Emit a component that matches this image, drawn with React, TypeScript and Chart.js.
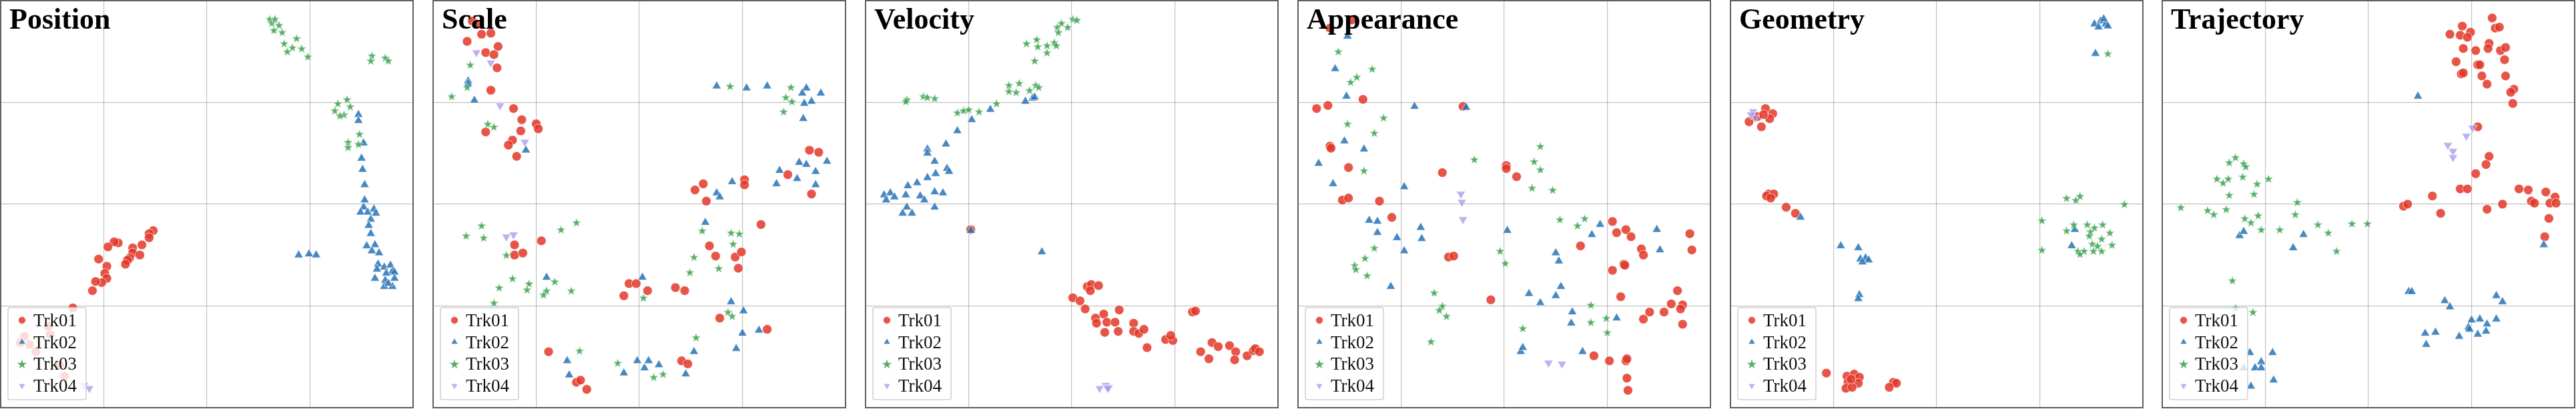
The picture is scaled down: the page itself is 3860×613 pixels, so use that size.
import React, { useEffect, useRef } from 'react';
import { Chart, registerables } from 'chart.js';

Chart.register(...registerables);

// ---------- categories / labels ----------
const panelTitles = ['Position', 'Scale', 'Velocity', 'Appearance', 'Geometry', 'Trajectory'];
const seriesNames = ['Trk01', 'Trk02', 'Trk03', 'Trk04'];
const gridTicks = [0, 10, 20, 30, 40];

// ---------- Position ----------
const position_trk01 = [[14.8,17.4],[14.4,17.1],[14.4,16.7],[13.7,16.0],[12.8,15.7],[12.8,15.2],[13.5,15.0],[12.5,14.7],[12.3,14.5],[12.1,14.1],[11.4,16.2],[11.0,16.3],[10.4,15.8],[9.5,14.6],[10.3,13.9],[10.1,13.2],[10.3,12.7],[9.8,12.3],[9.2,12.4],[8.9,11.5],[7.0,9.8],[4.6,8.0],[4.8,7.2],[2.3,7.0],[1.9,6.4],[2.8,6.2],[3.4,5.5],[5.7,4.2],[6.2,3.1]];
const position_trk02 = [[34.7,28.8],[34.7,28.2],[35.2,26.0],[35.0,24.5],[35.1,23.4],[35.3,21.9],[35.3,20.4],[35.2,19.7],[34.9,19.2],[35.6,19.2],[36.2,19.5],[36.4,19.1],[35.9,18.5],[35.7,17.9],[35.9,17.1],[35.5,15.9],[36.3,16.0],[36.0,15.4],[36.7,15.2],[36.6,14.1],[36.5,13.6],[37.2,13.8],[37.8,14.0],[38.0,13.4],[38.2,13.3],[37.4,13.2],[36.3,12.7],[37.3,12.5],[38.2,12.7],[37.2,11.9],[38.0,11.9],[37.6,12.2],[28.9,15.0],[29.9,15.1],[30.6,15.0]];
const position_trk03 = [[26.1,38.2],[26.3,37.8],[27.0,37.6],[26.5,37.1],[27.3,36.9],[26.6,38.2],[28.7,36.3],[27.5,35.8],[28.3,35.4],[29.2,35.3],[27.8,35.0],[29.8,34.5],[36.0,34.6],[35.9,34.1],[37.3,34.4],[37.6,34.1],[32.7,29.9],[33.6,30.3],[33.9,29.6],[32.4,29.2],[33.3,28.8],[32.9,28.7],[34.8,26.9],[33.7,26.1],[33.7,25.6],[34.7,25.9]];
const position_trk04 = [[8.1,2.2],[8.6,1.9]];

// ---------- Scale ----------
const scale_trk01 = [[3.8,38.0],[4.2,37.7],[4.7,36.7],[5.6,36.8],[3.3,36.0],[6.3,35.5],[5.1,34.9],[5.9,34.7],[6.2,33.4],[5.6,31.2],[7.8,29.4],[8.6,28.3],[10.0,27.9],[10.2,27.4],[8.5,27.2],[5.1,27.1],[7.7,26.3],[7.3,25.8],[8.1,24.7],[36.5,25.3],[37.4,25.1],[34.4,22.9],[30.2,22.4],[30.2,21.9],[26.2,22.0],[25.4,21.4],[26.5,20.3],[36.7,21.0],[31.8,18.0],[26.8,15.9],[27.4,14.9],[29.3,14.8],[29.9,15.3],[29.6,13.7],[10.5,16.4],[7.9,16.0],[7.9,15.0],[8.7,15.2],[19.0,12.2],[19.7,12.2],[20.8,11.5],[18.5,11.0],[23.5,11.8],[24.4,11.5],[27.8,8.8],[32.4,7.7],[11.2,5.5],[24.1,4.6],[24.7,4.3],[13.9,2.5],[14.3,2.7],[14.9,1.8]];
const scale_trk02 = [[3.4,32.1],[3.4,31.8],[4.0,30.2],[9.0,25.3],[27.5,31.6],[30.4,31.4],[32.4,31.6],[36.2,31.4],[35.8,30.9],[37.6,30.9],[36.0,29.9],[36.7,30.1],[35.9,28.4],[35.5,24.1],[36.2,23.9],[38.2,24.2],[33.6,23.3],[37.1,23.2],[35.3,22.5],[33.3,22.0],[37.1,21.9],[29.0,22.2],[27.5,21.1],[27.8,20.7],[26.4,18.2],[11.0,12.8],[20.3,12.8],[28.9,10.4],[30.1,9.5],[30.0,7.3],[31.6,7.6],[29.4,5.8],[25.3,5.5],[24.5,3.3],[13.0,4.6],[13.2,3.2],[18.5,3.4],[19.8,4.6],[20.5,3.9],[20.9,4.6],[21.9,4.2]];
const scale_trk03 = [[3.6,33.7],[3.3,31.5],[1.8,30.6],[5.3,27.9],[5.9,27.6],[28.8,31.6],[34.7,31.5],[34.2,30.5],[34.8,30.1],[34.0,29.1],[4.7,17.9],[3.2,16.9],[4.9,16.7],[12.4,17.5],[13.9,18.2],[7.1,15.0],[7.7,12.7],[6.4,11.8],[9.3,12.2],[9.1,11.6],[11.0,11.5],[10.7,11.1],[11.8,12.4],[13.4,11.5],[5.9,10.3],[20.4,10.8],[26.1,17.4],[25.3,14.8],[24.9,13.3],[28.9,17.2],[29.7,17.1],[29.1,16.1],[27.7,13.7],[28.6,9.4],[29.0,9.0],[25.5,6.9],[14.2,5.6],[17.9,4.4],[21.4,3.0],[22.3,3.3]];
const scale_trk04 = [[4.2,34.9],[5.6,33.9],[6.5,29.7],[8.9,26.1],[7.1,16.8],[7.8,17.0]];

// ---------- Velocity ----------
const velocity_trk01 = [[10.2,17.5],[21.5,11.9],[21.9,12.1],[22.6,12.0],[21.8,11.5],[20.1,10.8],[20.8,10.5],[21.3,9.7],[22.3,8.8],[23.1,9.2],[22.4,8.3],[23.4,8.4],[24.2,8.4],[24.6,9.6],[23.2,7.4],[24.5,7.5],[26.0,8.3],[26.0,7.5],[26.5,7.3],[27.0,7.7],[27.3,5.9],[29.1,6.7],[29.8,6.6],[29.6,7.1],[31.7,9.4],[32.0,9.5],[32.5,5.5],[33.3,4.8],[33.6,6.4],[34.2,6.0],[35.3,6.1],[35.9,5.5],[35.8,4.7],[37.0,5.1],[37.6,5.6],[37.8,5.8],[38.2,5.5]];
const velocity_trk02 = [[15.5,30.1],[16.2,30.4],[16.4,30.5],[12.1,29.3],[10.3,28.3],[8.9,27.2],[7.8,25.9],[6.0,25.4],[6.0,25.0],[6.7,24.2],[7.9,23.5],[8.1,23.2],[6.8,23.0],[6.0,22.6],[5.0,22.1],[4.1,21.8],[1.8,20.9],[2.4,21.1],[2.8,20.7],[2.0,20.4],[3.9,20.9],[5.3,20.8],[5.7,20.4],[6.7,21.2],[7.5,21.1],[6.7,19.7],[4.0,19.7],[3.6,19.1],[4.5,19.1],[10.2,17.4],[17.1,15.3]];
const velocity_trk03 = [[20.1,38.2],[20.5,38.1],[19.0,37.8],[18.6,37.4],[19.6,37.4],[18.7,36.9],[16.6,36.2],[15.6,35.8],[16.7,35.5],[17.6,35.6],[18.3,35.9],[18.5,35.6],[17.6,34.9],[16.4,34.1],[13.9,31.7],[14.9,31.9],[13.9,31.1],[14.6,31.0],[15.9,31.2],[16.5,31.7],[16.8,31.5],[4.0,30.3],[3.9,30.1],[5.6,30.6],[6.0,30.5],[6.7,30.4],[8.9,29.0],[9.5,29.2],[10.0,29.3],[11.0,29.1],[12.7,29.9]];
const velocity_trk04 = [[22.7,1.9],[23.3,2.2],[23.6,2.0],[23.5,1.9]];

// ---------- Appearance ----------
const appearance_trk01 = [[3.1,37.3],[5.2,38.1],[1.8,29.4],[2.9,29.7],[6.3,30.3],[3.1,25.7],[3.2,25.5],[4.9,23.6],[4.3,20.4],[4.9,20.6],[7.9,20.3],[9.1,18.7],[14.0,23.1],[16.0,29.6],[20.2,23.8],[20.2,23.5],[21.2,22.7],[14.6,14.8],[15.1,14.9],[18.7,10.6],[27.4,15.9],[30.5,18.3],[30.9,17.2],[31.8,17.5],[32.3,16.8],[33.3,15.6],[33.5,15.0],[30.5,13.5],[31.6,14.1],[31.7,14.0],[31.3,10.9],[38.0,17.1],[38.2,15.5],[36.8,11.5],[36.2,10.2],[37.3,10.1],[37.1,9.7],[34.1,9.4],[35.5,9.4],[33.5,8.7],[37.3,8.2],[28.7,5.1],[30.2,4.6],[31.8,4.6],[31.9,4.8],[31.9,2.9],[32.0,1.7]];
const appearance_trk02 = [[4.8,36.5],[3.6,33.3],[4.7,30.6],[11.3,29.6],[16.3,29.5],[4.5,26.2],[6.4,25.4],[2.0,24.0],[3.4,22.0],[10.3,21.7],[6.9,18.4],[7.7,18.3],[7.7,17.2],[9.6,16.7],[11.9,17.7],[12.0,16.6],[10.3,15.4],[9.0,11.9],[20.3,17.4],[25.0,15.2],[25.3,14.4],[25.5,11.9],[25.0,11.0],[22.4,11.2],[23.5,10.3],[29.3,18.0],[28.5,17.0],[34.8,17.5],[35.1,15.5],[26.6,9.4],[26.5,8.3],[30.9,8.8],[21.6,5.5],[21.8,5.9],[27.6,5.5]];
const appearance_trk03 = [[3.9,35.0],[7.2,33.3],[5.7,32.5],[5.1,32.0],[8.3,28.5],[4.8,27.9],[7.4,27.0],[6.4,23.3],[17.1,24.4],[23.5,25.7],[22.9,24.2],[23.5,23.4],[22.7,21.6],[24.7,21.4],[25.4,18.5],[27.1,17.9],[27.8,18.6],[19.6,15.4],[20.1,14.2],[7.4,15.7],[6.5,14.7],[5.5,14.0],[5.6,13.6],[6.7,13.0],[13.2,11.3],[14.0,10.0],[13.7,9.6],[14.4,9.0],[12.9,6.5],[21.8,7.8],[28.4,10.1],[28.4,8.4],[29.9,8.8],[30.0,7.4]];
const appearance_trk04 = [[15.8,21.0],[15.9,20.2],[16.0,18.5],[24.3,4.4],[25.6,4.3]];

// ---------- Geometry ----------
const geometry_trk01 = [[3.4,29.4],[4.1,28.9],[3.8,28.4],[1.8,28.1],[3.0,27.6],[2.6,28.6],[3.2,28.8],[3.7,21.0],[4.2,21.0],[3.5,20.8],[3.9,20.6],[5.4,19.7],[6.3,19.1],[9.3,3.4],[11.3,3.1],[12.0,3.3],[12.5,3.0],[11.4,2.5],[12.4,2.4],[11.2,1.9],[11.8,2.0],[11.7,2.8],[15.8,2.5],[16.1,2.4],[15.4,2.0]];
const geometry_trk02 = [[35.3,37.7],[35.9,38.0],[36.4,37.7],[35.7,37.4],[36.6,37.5],[36.2,38.2],[35.4,34.8],[6.8,18.7],[10.7,15.9],[12.4,15.7],[12.6,14.6],[13.1,14.7],[13.4,14.5],[12.8,14.3],[12.5,11.1],[12.4,10.7],[33.4,17.5],[33.1,15.9]];
const geometry_trk03 = [[36.6,34.8],[32.6,20.6],[33.5,20.4],[33.9,20.8],[38.2,20.0],[30.2,18.4],[30.2,15.5],[33.3,18.0],[32.6,17.4],[34.6,18.0],[35.3,17.7],[36.1,18.0],[36.8,17.2],[34.9,17.3],[34.8,16.9],[36.0,16.6],[35.1,16.1],[35.6,15.9],[37.0,16.0],[33.7,15.4],[34.3,15.4],[35.2,15.4],[36.0,15.4],[33.9,15.1]];
const geometry_trk04 = [[2.2,29.1],[2.4,28.5],[2.0,28.8]];

// ---------- Trajectory ----------
const trajectory_trk01 = [[32.0,38.3],[29.1,37.5],[29.9,36.9],[27.9,36.7],[28.9,36.6],[29.6,36.4],[32.3,37.3],[32.7,37.4],[31.7,35.8],[31.6,35.3],[29.2,35.3],[30.4,35.1],[32.8,35.1],[33.3,35.4],[33.2,34.2],[28.5,34.0],[30.6,33.7],[30.8,33.7],[29.0,32.8],[29.2,32.9],[33.3,32.6],[31.0,32.6],[31.5,31.8],[34.1,31.3],[33.8,31.0],[34.0,29.9],[30.6,27.6],[31.7,24.7],[31.4,23.9],[30.4,23.0],[28.9,21.5],[29.6,21.5],[34.6,21.5],[35.5,21.4],[37.2,21.2],[38.1,20.7],[35.8,20.3],[36.1,20.1],[37.6,20.1],[38.2,20.1],[33.0,20.0],[31.5,19.5],[26.2,20.8],[27.0,19.1],[23.4,19.8],[23.8,20.0],[37.5,18.6],[37.1,16.8]];
const trajectory_trk02 = [[24.8,30.6],[37.0,16.0],[7.5,16.9],[7.9,17.3],[13.7,17.0],[12.7,15.7],[23.9,11.4],[24.2,11.4],[27.4,10.5],[27.9,9.9],[32.4,11.0],[33.0,10.4],[30.0,8.6],[30.8,8.7],[29.7,7.9],[29.8,7.7],[31.5,8.2],[31.4,7.5],[30.6,7.2],[32.4,8.7],[25.5,7.3],[26.5,7.4],[28.8,7.0],[25.6,6.2],[8.5,5.4],[10.7,5.4],[9.6,4.5],[9.0,3.9],[9.6,3.9],[10.8,2.7],[8.6,2.1],[7.9,3.9]];
const trajectory_trk03 = [[1.8,19.7],[4.4,19.4],[5.0,19.0],[6.2,19.5],[6.5,24.1],[7.1,24.6],[7.9,24.0],[8.1,23.7],[5.3,22.5],[5.9,22.1],[6.4,22.5],[7.8,22.7],[9.2,22.0],[10.3,22.5],[6.5,20.9],[8.9,21.0],[8.0,18.6],[8.6,18.2],[9.3,18.9],[9.6,17.5],[11.4,17.5],[13.1,20.2],[12.9,19.0],[15.1,18.0],[16.1,17.2],[18.4,18.1],[19.9,18.1],[16.9,15.4],[6.8,12.5],[8.8,9.4],[7.1,9.8]];
const trajectory_trk04 = [[30.1,27.5],[29.5,26.7],[27.7,25.8],[28.2,25.2],[28.2,24.6]];

const panelSeries = [
  [position_trk01, position_trk02, position_trk03, position_trk04],
  [scale_trk01, scale_trk02, scale_trk03, scale_trk04],
  [velocity_trk01, velocity_trk02, velocity_trk03, velocity_trk04],
  [appearance_trk01, appearance_trk02, appearance_trk03, appearance_trk04],
  [geometry_trk01, geometry_trk02, geometry_trk03, geometry_trk04],
  [trajectory_trk01, trajectory_trk02, trajectory_trk03, trajectory_trk04],
];

// ---------- styles / layout ----------
const seriesColors = ['rgba(226,55,40,0.85)', 'rgba(40,115,182,0.85)', 'rgba(55,160,75,0.85)', 'rgba(160,145,235,0.7)'];
const EDGE = 'rgba(255,255,255,0.85)';
const PANEL_W = 620;
const PANEL_H = 613;
const panelLefts = [0, 648, 1296, 1944, 2592, 3239];

function starPath(ctx: CanvasRenderingContext2D, cx: number, cy: number, R: number) {
  ctx.beginPath();
  for (let i = 0; i < 10; i++) {
    const r = i % 2 === 0 ? R : R * 0.382;
    const a = -Math.PI / 2 + (i * Math.PI) / 5;
    const px = cx + r * Math.cos(a);
    const py = cy + r * Math.sin(a);
    if (i === 0) ctx.moveTo(px, py); else ctx.lineTo(px, py);
  }
  ctx.closePath();
}

function makeStarImage(color: string, R: number): HTMLCanvasElement {
  const s = 20;
  const c = document.createElement('canvas');
  c.width = s;
  c.height = s;
  const ctx = c.getContext('2d')!;
  starPath(ctx, s / 2, s / 2 + 0.6, R);
  ctx.fillStyle = color;
  ctx.fill();
  ctx.strokeStyle = EDGE;
  ctx.lineWidth = 0.6;
  ctx.stroke();
  return c;
}

function drawLegendMarker(ctx: CanvasRenderingContext2D, i: number, x: number, y: number) {
  ctx.save();
  ctx.fillStyle = seriesColors[i];
  ctx.strokeStyle = EDGE;
  ctx.lineWidth = 0.6;
  if (i === 0) {
    ctx.beginPath();
    ctx.arc(x, y, 5.4, 0, Math.PI * 2);
    ctx.fill();
    ctx.stroke();
  } else if (i === 1 || i === 3) {
    const r = 5.8;
    const dir = i === 1 ? -1 : 1;
    ctx.beginPath();
    ctx.moveTo(x, y + dir * r);
    ctx.lineTo(x - r * 0.866, y - dir * r * 0.5);
    ctx.lineTo(x + r * 0.866, y - dir * r * 0.5);
    ctx.closePath();
    ctx.fill();
    ctx.stroke();
  } else {
    starPath(ctx, x, y + 0.8, 8.2);
    ctx.fill();
    ctx.stroke();
  }
  ctx.restore();
}

function makeFramePlugin(title: string) {
  return {
    id: 'panelFrame',
    afterDraw(chart: any) {
      const { ctx, chartArea: a } = chart;
      ctx.save();
      // panel border
      ctx.strokeStyle = '#606060';
      ctx.lineWidth = 2;
      ctx.strokeRect(a.left, a.top, a.right - a.left, a.bottom - a.top);
      // title
      ctx.fillStyle = '#000';
      ctx.font = 'bold 44px "Liberation Serif"';
      ctx.textBaseline = 'alphabetic';
      ctx.textAlign = 'left';
      ctx.fillText(title, 14, 43);
      // legend box
      const bx = 12, by = 461, bw = 117, bh = 138, rr = 3;
      ctx.beginPath();
      ctx.moveTo(bx + rr, by);
      ctx.lineTo(bx + bw - rr, by);
      ctx.quadraticCurveTo(bx + bw, by, bx + bw, by + rr);
      ctx.lineTo(bx + bw, by + bh - rr);
      ctx.quadraticCurveTo(bx + bw, by + bh, bx + bw - rr, by + bh);
      ctx.lineTo(bx + rr, by + bh);
      ctx.quadraticCurveTo(bx, by + bh, bx, by + bh - rr);
      ctx.lineTo(bx, by + rr);
      ctx.quadraticCurveTo(bx, by, bx + rr, by);
      ctx.closePath();
      ctx.fillStyle = 'rgba(255,255,255,0.8)';
      ctx.fill();
      ctx.strokeStyle = '#cfcfcf';
      ctx.lineWidth = 1.5;
      ctx.stroke();
      // legend entries
      ctx.font = '27px "Liberation Serif"';
      for (let i = 0; i < seriesNames.length; i++) {
        const cy = 480 + i * 32.7;
        drawLegendMarker(ctx, i, 33, cy);
        ctx.fillStyle = '#111';
        ctx.fillText(seriesNames[i], 50, cy + 9);
      }
      ctx.restore();
    },
  };
}

function Panel({ index }: { index: number }) {
  const ref = useRef<HTMLCanvasElement | null>(null);
  useEffect(() => {
    const canvas = ref.current!;
    const star = makeStarImage(seriesColors[2], 7.4);
    const series = panelSeries[index];
    const styleFor = (i: number): any => {
      if (i === 0) return { pointStyle: 'circle', pointRadius: 7, pointBorderWidth: 0.8 };
      if (i === 1) return { pointStyle: 'triangle', pointRadius: 7.8, pointBorderWidth: 0.8 };
      if (i === 2) return { pointStyle: star, pointRadius: 7 };
      return { pointStyle: 'triangle', pointRadius: 7.8, pointRotation: 180, pointBorderWidth: 0.8 };
    };
    const gridOpts = {
      color: 'rgba(0,0,0,0.24)',
      lineWidth: 1.2,
      drawTicks: false,
    };
    const chart = new Chart(canvas, {
      type: 'scatter',
      data: {
        datasets: series.map((pts, i) => ({
          label: seriesNames[i],
          data: pts.map(([x, y]) => ({ x, y })),
          backgroundColor: seriesColors[i],
          borderColor: EDGE,
          order: 4 - i,
          ...styleFor(i),
        })),
      },
      options: {
        animation: false,
        responsive: false,
        devicePixelRatio: 1,
        events: [],
        layout: { padding: { left: 1, right: 1, top: 1, bottom: 2 }, autoPadding: false },
        scales: {
          x: {
            type: 'linear',
            min: gridTicks[0],
            max: gridTicks[gridTicks.length - 1],
            afterBuildTicks: (s: any) => { s.ticks = gridTicks.map((v) => ({ value: v })); },
            ticks: { display: false },
            grid: gridOpts,
            border: { display: false },
          },
          y: {
            type: 'linear',
            min: gridTicks[0],
            max: gridTicks[gridTicks.length - 1],
            afterBuildTicks: (s: any) => { s.ticks = gridTicks.map((v) => ({ value: v })); },
            ticks: { display: false },
            grid: gridOpts,
            border: { display: false },
          },
        },
        plugins: {
          legend: { display: false },
          tooltip: { enabled: false },
          title: { display: false },
        },
      } as any,
      plugins: [makeFramePlugin(panelTitles[index])],
    });
    return () => chart.destroy();
  }, [index]);
  return (
    <canvas
      ref={ref}
      width={PANEL_W}
      height={PANEL_H}
      style={{ position: 'absolute', left: panelLefts[index], top: 0, width: PANEL_W, height: PANEL_H }}
    />
  );
}

export default function App() {
  return (
    <div style={{ position: 'absolute', left: 0, top: 0, width: 3860, height: 613, background: '#fff', overflow: 'hidden' }}>
      {panelTitles.map((_, i) => (
        <Panel key={i} index={i} />
      ))}
    </div>
  );
}
